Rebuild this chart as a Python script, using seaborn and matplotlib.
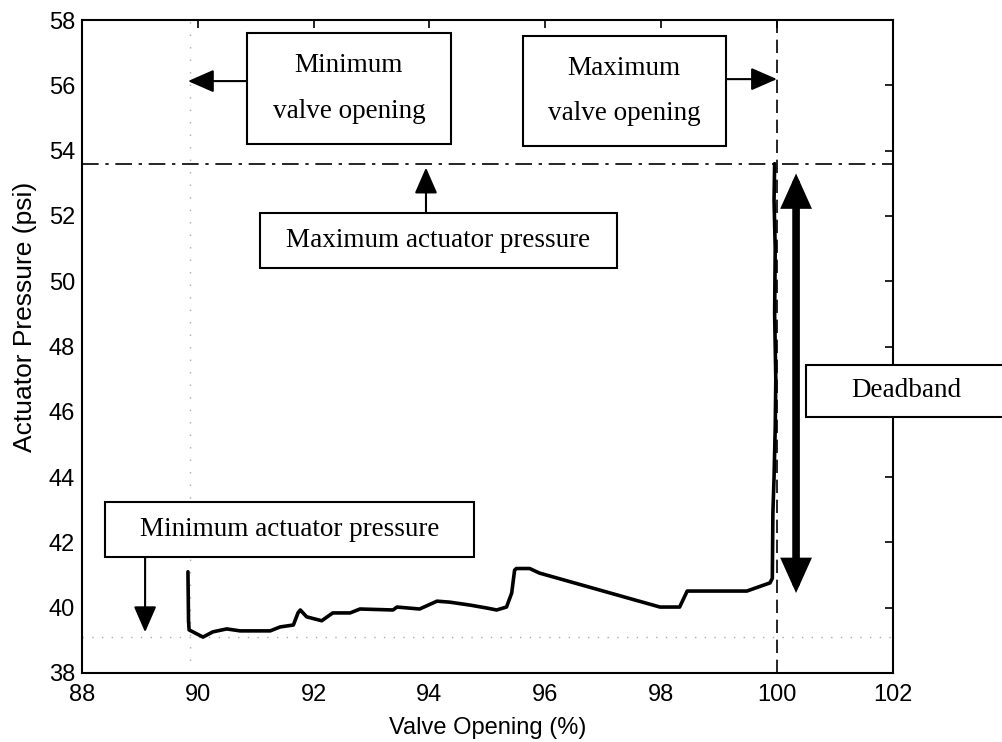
import matplotlib
matplotlib.use("Agg")
import matplotlib.pyplot as plt
from matplotlib.patches import Rectangle
import seaborn as sns
import pandas as pd

# ---- data ----
valve_opening = [89.83, 89.84, 89.85, 90.09, 90.26, 90.50, 90.73, 91.25, 91.42, 91.65,
                 91.73, 91.77, 91.88, 92.14, 92.33, 92.63, 92.80, 93.37, 93.44, 93.83,
                 94.13, 94.35, 94.70, 94.99, 95.16, 95.33, 95.42, 95.47, 95.50, 95.73,
                 95.90, 97.98, 98.32, 98.45, 99.48, 99.88, 99.92, 99.93, 99.95, 99.97,
                 99.98, 99.96, 99.97, 99.95, 99.96]
actuator_pressure = [41.10, 39.60, 39.32, 39.10, 39.26, 39.35, 39.29, 39.29, 39.41, 39.47,
                     39.84, 39.93, 39.72, 39.60, 39.84, 39.84, 39.96, 39.93, 40.02, 39.96,
                     40.20, 40.17, 40.08, 39.99, 39.93, 40.02, 40.45, 41.15, 41.20, 41.20,
                     41.06, 40.02, 40.02, 40.51, 40.51, 40.76, 40.90, 42.90, 44.00, 45.50,
                     47.00, 49.00, 51.00, 52.50, 53.60]

max_actuator_pressure = 53.6
min_actuator_pressure = 39.1
max_valve_opening = 100.0
min_valve_opening = 89.87
deadband_low, deadband_high = 40.45, 53.3

x_ticks = [88, 90, 92, 94, 96, 98, 100, 102]
y_ticks = [38, 40, 42, 44, 46, 48, 50, 52, 54, 56, 58]

# ---- style ----
sns.set_theme(style="white")
plt.rcParams["font.family"] = ["Liberation Sans", "DejaVu Sans"]
plt.rcParams["xtick.direction"] = "in"
plt.rcParams["ytick.direction"] = "in"

fig = plt.figure(figsize=(10.02, 7.42), dpi=100)
ax = fig.add_axes([0.0818, 0.093, 0.8092, 0.880])

df = pd.DataFrame({"Valve Opening (%)": valve_opening,
                   "Actuator Pressure (psi)": actuator_pressure})
sns.lineplot(data=df, x="Valve Opening (%)", y="Actuator Pressure (psi)",
             sort=False, estimator=None, color="black", linewidth=2.6, ax=ax, zorder=3)

ax.set_xlim(88, 102)
ax.set_ylim(38, 58)
ax.set_xticks(x_ticks)
ax.set_yticks(y_ticks)
ax.tick_params(axis="both", which="both", top=True, right=True, length=6, width=1.2,
               labelsize=17, color="black", labelcolor="black")
ax.tick_params(axis="x", pad=8)
ax.tick_params(axis="y", pad=5)
for s in ax.spines.values():
    s.set_color("black")
    s.set_linewidth(1.5)
ax.set_xlabel("Valve Opening (%)", fontsize=17, labelpad=8, color="black")
ax.set_ylabel("Actuator Pressure (psi)", fontsize=19, color="black")
ax.yaxis.set_label_coords(-0.056, 0.545)

# reference lines
ax.axhline(max_actuator_pressure, color="black", lw=1.2, ls=(0, (10, 4, 2, 4)), zorder=2)
ax.axvline(max_valve_opening, color="black", lw=1.2, ls=(0, (8, 4)), zorder=2)
ax.axhline(min_actuator_pressure, color="#aaaaaa", lw=1.0, ls=(0, (1, 6)), zorder=1)
ax.axvline(min_valve_opening, color="#aaaaaa", lw=1.0, ls=(0, (1, 8)), zorder=1)

# ---- annotation boxes ----
serif = ["Liberation Serif", "DejaVu Serif"]

def box(x0, x1, y0, y1, text, linespacing=1.2):
    r = Rectangle((x0, y0), x1 - x0, y1 - y0, facecolor="white", edgecolor="black",
                  lw=1.5, zorder=6, clip_on=False)
    ax.add_patch(r)
    ax.text((x0 + x1) / 2, (y0 + y1) / 2, text, ha="center", va="center",
            fontsize=19.5, family=serif, color="black", zorder=7, clip_on=False,
            linespacing=linespacing)

box(90.85, 94.37, 54.20, 57.60, "Minimum\nvalve opening", linespacing=2.1)
box(95.61, 99.12, 54.14, 57.51, "Maximum\nvalve opening", linespacing=2.1)
box(91.07, 97.24, 50.40, 52.09, "Maximum actuator pressure")
box(100.50, 104.0, 45.84, 47.43, "")
ax.text(102.24, 46.64, "Deadband", ha="center", va="center", fontsize=19.5,
        family=serif, color="black", zorder=7, clip_on=False)
box(88.40, 94.77, 41.55, 43.24, "Minimum actuator pressure")

arrow = dict(arrowstyle="-|>,head_length=0.8,head_width=0.35", color="black", lw=1.5,
             mutation_scale=20, shrinkA=0, shrinkB=0)
ax.annotate("", xy=(min_valve_opening - 0.04, 56.13), xytext=(90.85, 56.13),
            arrowprops=arrow, zorder=6)
ax.annotate("", xy=(max_valve_opening, 56.19), xytext=(99.12, 56.19),
            arrowprops=arrow, zorder=6)
ax.annotate("", xy=(93.94, max_actuator_pressure - 0.12), xytext=(93.94, 52.09),
            arrowprops=arrow, zorder=6)
ax.annotate("", xy=(89.09, 39.25), xytext=(89.09, 41.55),
            arrowprops=arrow, zorder=6)

# deadband double arrow
ax.annotate("", xy=(100.33, deadband_high), xytext=(100.33, deadband_low),
            arrowprops=dict(arrowstyle="<|-|>,head_length=1.0,head_width=0.45",
                            color="black", lw=5.5, mutation_scale=16,
                            shrinkA=0, shrinkB=0, joinstyle="miter"),
            zorder=5)

fig.savefig("out.png", dpi=100, facecolor="white")
